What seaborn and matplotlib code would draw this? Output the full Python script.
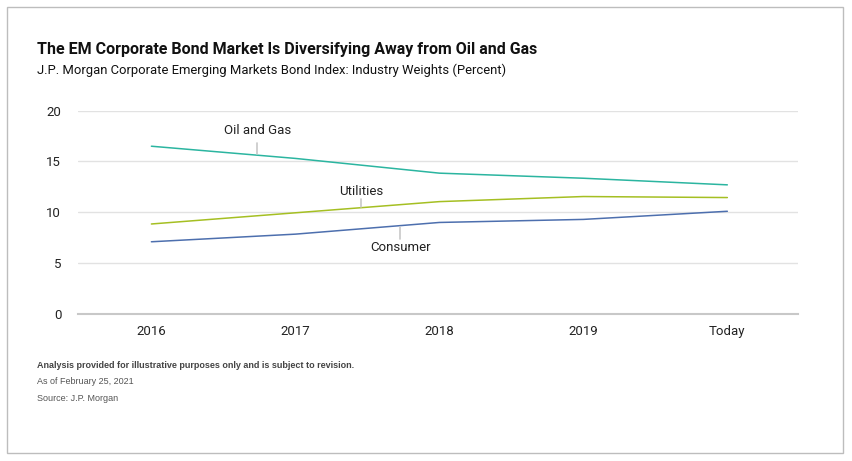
import pandas as pd
import matplotlib.pyplot as plt
import seaborn as sns

periods = ['2016', '2017', '2018', '2019', 'Today']
oil_gas = [16.5, 15.3, 13.85, 13.35, 12.7]
utilities = [8.85, 9.95, 11.05, 11.55, 11.45]
consumer = [7.1, 7.85, 9.0, 9.3, 10.1]

series_names = ['Oil and Gas', 'Utilities', 'Consumer']
colors = {'Oil and Gas': '#2bb5a0', 'Utilities': '#a5bf22', 'Consumer': '#4d6fae'}

df = pd.DataFrame({
    'period': periods * 3,
    'weight': oil_gas + utilities + consumer,
    'industry': [n for n in series_names for _ in periods],
})
df['pos'] = df['period'].map({p: i for i, p in enumerate(periods)})

sns.set_style('white')
plt.rcParams['font.family'] = ['Roboto', 'DejaVu Sans']

fig = plt.figure(figsize=(8.52, 4.61), dpi=100)
ax = fig.add_axes([0.0915, 0.319, 0.845, 0.441])

sns.lineplot(data=df, x='pos', y='weight', hue='industry', palette=colors,
             linewidth=1.1, legend=False, ax=ax)

ax.set_xlim(-0.51, 4.49)
ax.set_ylim(0, 20)
ax.set_yticks([0, 5, 10, 15, 20])
ax.set_xticks(range(len(periods)))
ax.set_xticklabels(periods)
ax.set_xlabel('')
ax.set_ylabel('')
ax.grid(axis='y', color='#e2e2e2', linewidth=1.0)
ax.set_axisbelow(True)
for side in ['top', 'right', 'left']:
    ax.spines[side].set_visible(False)
ax.spines['bottom'].set_color('#c8c8c8')
ax.spines['bottom'].set_linewidth(1.5)
ax.tick_params(axis='both', length=0, labelsize=9.5, colors='#222222')
ax.tick_params(axis='y', pad=12)
ax.tick_params(axis='x', pad=8)

# direct labels with leader lines
labels = [
    ('Oil and Gas', 0.736, 18.0, 16.8, 15.7),
    ('Utilities', 1.458, 12.05, 11.3, 10.55),
    ('Consumer', 1.73, 6.55, 7.4, 8.6),
]
for name, lx, ty, y0, y1 in labels:
    ax.text(lx, ty, name, ha='center', va='center', fontsize=9.5, color='#222222')
    ax.plot([lx, lx], [y0, y1], color='#c8c8c8', linewidth=1.2)

fig.text(0.044, 0.883, 'The EM Corporate Bond Market Is Diversifying Away from Oil and Gas',
         fontsize=11.5, fontweight='bold', color='#111111', va='baseline')
fig.text(0.044, 0.840, 'J.P. Morgan Corporate Emerging Markets Bond Index: Industry Weights (Percent)',
         fontsize=9.4, color='#111111', va='baseline')

fig.text(0.044, 0.208, 'Analysis provided for illustrative purposes only and is subject to revision.',
         fontsize=6.5, fontweight='bold', color='#444444', va='center', family='Liberation Sans')
fig.text(0.044, 0.172, 'As of February 25, 2021', fontsize=6.5, color='#555555', va='center',
         family='Liberation Sans')
fig.text(0.044, 0.135, 'Source: J.P. Morgan', fontsize=6.5, color='#555555', va='center',
         family='Liberation Sans')

# outer frame
fig.add_artist(plt.Rectangle((0.0085, 0.017), 0.981, 0.967, transform=fig.transFigure,
                             fill=False, edgecolor='#bdbdbd', linewidth=1.0))

fig.savefig('out.png', dpi=100)
